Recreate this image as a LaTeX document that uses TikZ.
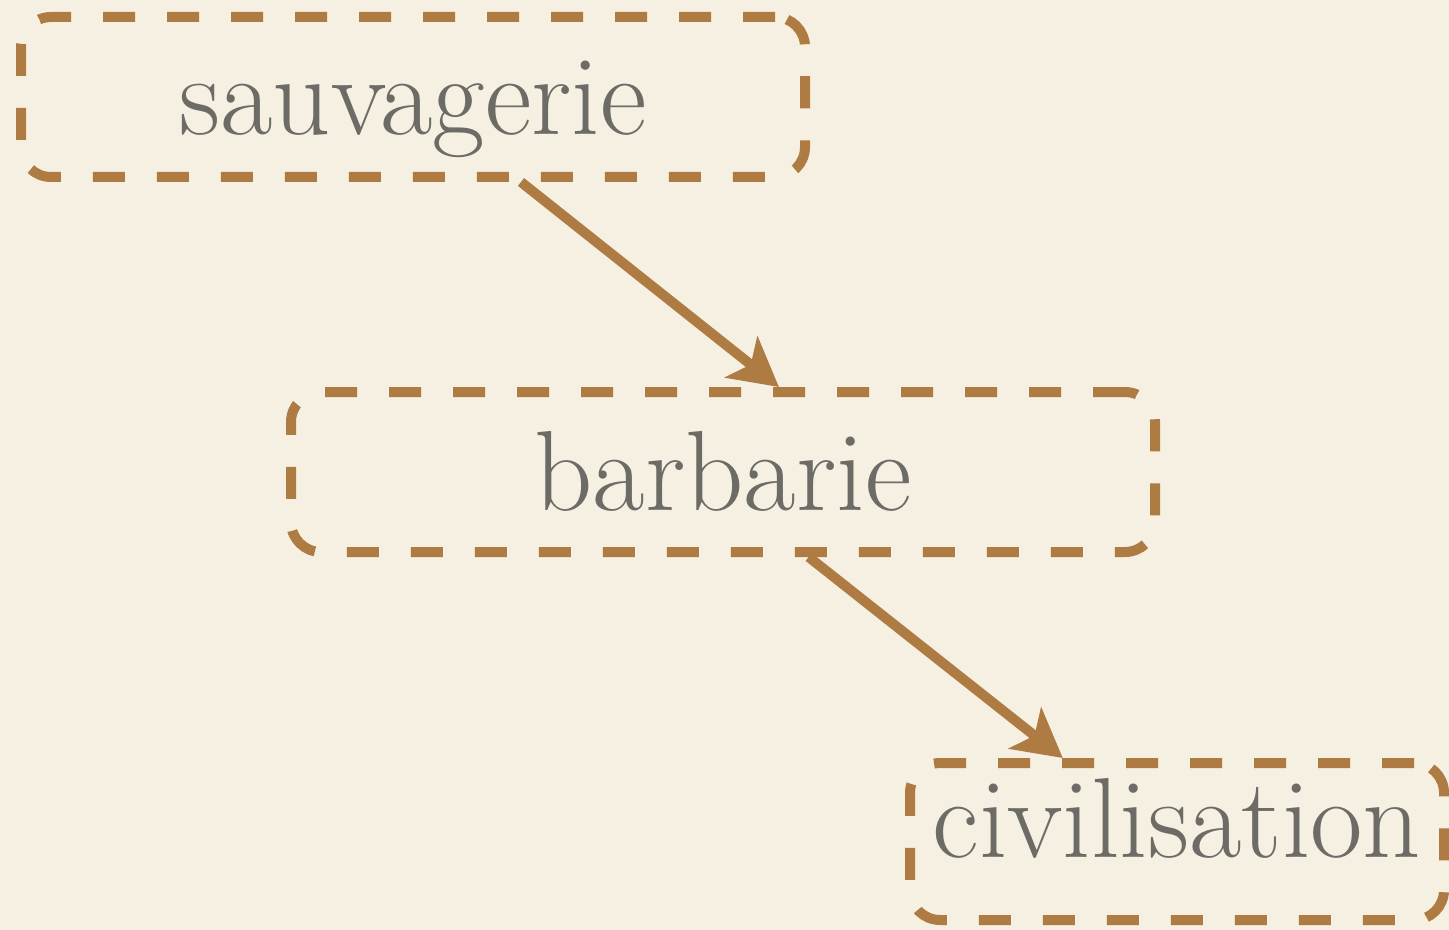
\documentclass[tikz,border=0pt]{standalone}
\usetikzlibrary{arrows.meta,calc}
\definecolor{paper}{RGB}{245,240,226}
\definecolor{rust}{RGB}{174,123,66}
\definecolor{ink}{RGB}{108,107,102}
\tikzset{
  stagebox/.style={draw=rust, line width=5pt, dash pattern=on 16pt off 16pt,
    rounded corners=15pt, inner sep=0pt, text=ink,
    font=\fontsize{57}{66}\selectfont, text depth=0pt},
  flow/.style={draw=rust, line width=5pt,
    -{Stealth[length=24pt, width=26pt, inset=6pt]}}
}
\begin{document}
\begin{tikzpicture}[x=0.5pt, y=-0.5pt]
  \fill[paper] (0,0) rectangle (1449,930);
  \useasboundingbox (0,0) rectangle (1449,930);

  \node[stagebox, minimum width=392pt, minimum height=80pt, text height=38pt]
    (s) at (413,97) {sauvagerie};
  \node[stagebox, minimum width=432pt, minimum height=80pt, text height=38pt]
    (b) at (723,472) {barbarie};
  \node[stagebox, minimum width=267pt, minimum height=78.5pt, text height=16pt]
    (c) at (1177,841.5) {civilisation};

  \draw[flow] ($(s.south west)!0.636!(s.south east)$)
           -- ($(b.north west)!0.564!(b.north east)$);
  \draw[flow] ($(b.south west)!0.598!(b.south east)$)
           -- ($(c.north west)!0.29!(c.north east)$);
\end{tikzpicture}
\end{document}
